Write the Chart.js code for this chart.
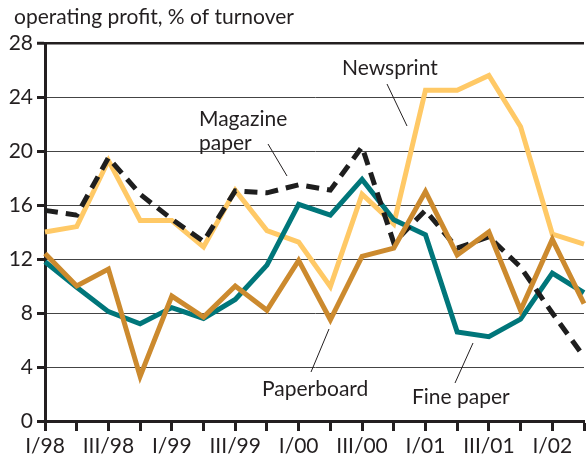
<!DOCTYPE html>
<html>
<head>
<meta charset="utf-8">
<script src="https://cdn.jsdelivr.net/npm/chart.js@4/dist/chart.umd.min.js"></script>
<style>
  html,body{margin:0;padding:0;background:#fff;}
  #wrap{width:587px;height:459px;position:relative;}
</style>
</head>
<body>
<div id="wrap"><canvas id="c" width="587" height="459"></canvas></div>
<script>
// quarters I/98 .. II/02
const quarters = ['I/98','II/98','III/98','IV/98','I/99','II/99','III/99','IV/99','I/00','II/00','III/00','IV/00','I/01','II/01','III/01','IV/01','I/02','II/02'];
const yTicks = [0, 4, 8, 12, 16, 20, 24, 28];

const newsprint   = [14.0, 14.4, 19.3, 14.85, 14.85, 12.9, 17.1, 14.1, 13.25, 9.95, 16.8, 14.6, 24.5, 24.5, 25.6, 21.8, 13.85, 13.1];
const magazine    = [15.6, 15.25, 19.5, 16.8, 14.95, 13.3, 17.05, 16.9, 17.5, 17.1, 20.3, 13.2, 15.6, 12.8, 13.65, 11.4, 8.0, 4.75];
const finePaper   = [11.8, 9.9, 8.1, 7.2, 8.4, 7.6, 9.0, 11.55, 16.05, 15.25, 17.9, 14.9, 13.8, 6.6, 6.25, 7.55, 10.95, 9.5];
const paperboard  = [12.4, 10.0, 11.25, 3.3, 9.25, 7.7, 10.0, 8.2, 11.9, 7.5, 12.2, 12.8, 17.0, 12.3, 14.0, 8.2, 13.45, 8.7];

const FONT = 'Lato, "DejaVu Sans", sans-serif';

// title + series labels with pointer lines
const notes = {
  id: 'notes',
  afterDraw(chart) {
    const c = chart.ctx;
    c.save();
    c.fillStyle = '#231f20';
    c.font = '21px ' + FONT;
    c.textBaseline = 'middle';
    c.textAlign = 'left';
    c.fillText('operating profit, % of turnover', 14, 17);
    c.fillText('Newsprint', 342, 68);
    c.fillText('Magazine', 199, 119);
    c.fillText('paper', 199, 143);
    c.fillText('Paperboard', 262, 389);
    c.fillText('Fine paper', 412, 397);
    c.strokeStyle = '#231f20';
    c.lineWidth = 1;
    const seg = (a, b, d, e) => { c.beginPath(); c.moveTo(a, b); c.lineTo(d, e); c.stroke(); };
    seg(387, 84, 407, 126);
    seg(268, 144, 287, 176);
    seg(311, 372, 329, 329);
    seg(455, 383, 473, 343);
    c.restore();
  }
};

new Chart(document.getElementById('c'), {
  type: 'line',
  data: {
    labels: quarters,
    datasets: [
      { label: 'Paperboard', data: paperboard, borderColor: '#cc8a2e', borderWidth: 5 },
      { label: 'Magazine paper', data: magazine, borderColor: '#1e1e1e', borderWidth: 5, borderDash: [13, 8] },
      { label: 'Fine paper', data: finePaper, borderColor: '#00767a', borderWidth: 5 },
      { label: 'Newsprint', data: newsprint, borderColor: '#ffc966', borderWidth: 5 }
    ]
  },
  options: {
    responsive: false,
    animation: false,
    events: [],
    elements: {
      point: { radius: 0 },
      line: { tension: 0, borderJoinStyle: 'miter', borderCapStyle: 'butt' }
    },
    layout: { padding: { top: 43, right: 0, left: 0, bottom: 0 } },
    plugins: { legend: { display: false }, tooltip: { enabled: false } },
    scales: {
      x: {
        offset: false,
        afterFit: s => { s.height = 38; },
        border: { color: '#231f20', width: 3 },
        grid: { drawOnChartArea: false, drawTicks: true, tickLength: 10, tickWidth: 3, tickColor: '#231f20' },
        ticks: {
          autoSkip: false, maxRotation: 0, padding: 3,
          color: '#231f20', font: { family: FONT, size: 21 },
          callback: (v, i) => i % 2 === 0 ? quarters[i] : ''
        }
      },
      y: {
        min: 0, max: 28,
        afterFit: s => { s.width = 45; },
        afterBuildTicks: s => { s.ticks = yTicks.map(v => ({ value: v })); },
        border: { color: '#231f20', width: 3 },
        grid: {
          color: ctx => ctx.tick && ctx.tick.value === 28 ? '#231f20' : '#444',
          lineWidth: ctx => ctx.tick && ctx.tick.value === 28 ? 2.5 : 1,
          tickLength: 8, tickWidth: 3, tickColor: '#231f20'
        },
        ticks: { padding: 4, color: '#231f20', font: { family: FONT, size: 21 } }
      }
    }
  },
  plugins: [notes]
});
</script>
</body>
</html>
